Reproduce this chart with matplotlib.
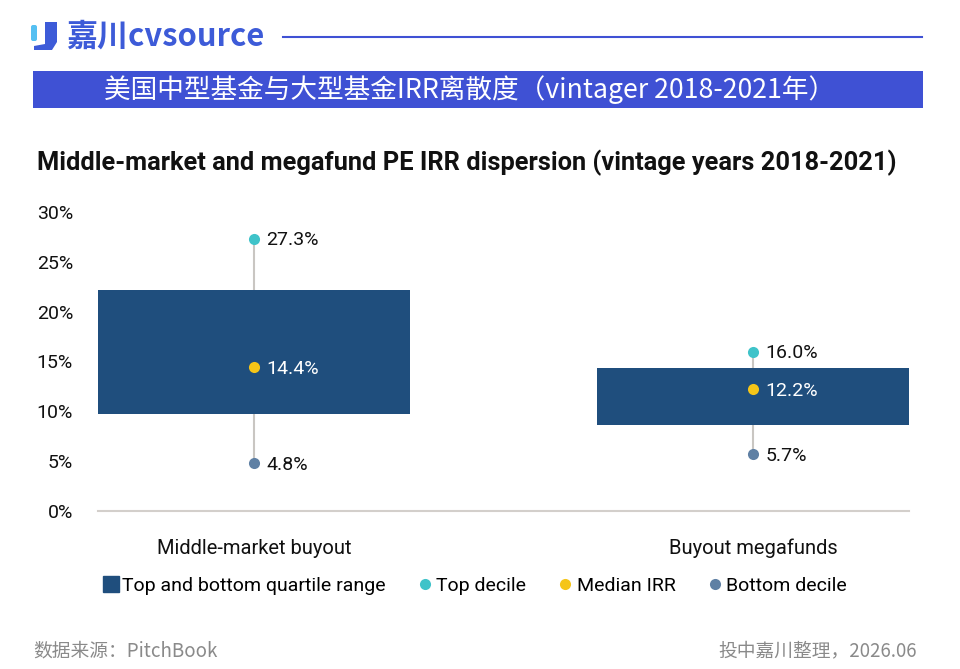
import matplotlib.pyplot as plt
import matplotlib.patches as patches
from matplotlib.lines import Line2D

# data (IRR, %)
categories = ["Middle-market buyout", "Buyout megafunds"]
q1 = [9.7, 8.6]          # bottom quartile
q3 = [22.2, 14.3]        # top quartile
top_decile = [27.3, 16.0]
median_irr = [14.4, 12.2]
bottom_decile = [4.8, 5.7]
yticks = [0, 5, 10, 15, 20, 25, 30]

BOX = '#1f4e7d'
TOP = '#3fc3c9'
MED = '#f5c518'
BOT = '#5f80a4'
BLUE = '#3f51d4'
sans = ['Roboto', 'DejaVu Sans']
cjk = ['Noto Sans CJK SC', 'DejaVu Sans']

fig = plt.figure(figsize=(9.6, 6.69), dpi=100, facecolor='white')

# header / footer layer in pixel coordinates
bg = fig.add_axes([0, 0, 1, 1])
bg.set_xlim(0, 960)
bg.set_ylim(669, 0)
bg.set_axis_off()

# logo icon
bg.add_patch(patches.FancyBboxPatch((31, 25), 6, 16, boxstyle='round,pad=0,rounding_size=2',
                                    color='#55c0f2', lw=0))
bg.add_patch(patches.Polygon([(45, 22), (57, 22), (57, 42), (52, 50), (34, 50), (34, 46), (45, 44)],
                             closed=True, color='#3d5bd8', lw=0))
bg.text(66, 37, '嘉川cvsource', family=cjk, fontsize=22.3, fontweight='bold',
        color='#3d5bd8', ha='left', va='center')
bg.plot([283, 922], [37, 37], color=BLUE, lw=1.5)

# banner
bg.add_patch(patches.Rectangle((33, 71), 890, 37, color=BLUE, lw=0))
bg.text(470, 90, '美国中型基金与大型基金IRR离散度（vintager 2018-2021年）', family=cjk,
        fontsize=19.2, color='white', ha='center', va='center')

# chart title
bg.text(37, 163, 'Middle-market and megafund PE IRR dispersion (vintage years 2018-2021)',
        family=sans, fontsize=18.25, fontweight='bold', color='#111111',
        ha='left', va='center')

# footer
bg.text(33, 651, '数据来源：PitchBook', family=cjk, fontsize=13.5, color='#8a8a8a',
        ha='left', va='center')
bg.text(917, 651, '投中嘉川整理，2026.06', family=cjk, fontsize=13.5, color='#8a8a8a',
        ha='right', va='center')

# main chart
ax = fig.add_axes([98 / 960, 158 / 669, 811 / 960, 299 / 669])
x = list(range(len(categories)))
width = 0.625
heights = [b - a for a, b in zip(q1, q3)]

ax.vlines(x, bottom_decile, top_decile, color='#c9c6c2', lw=1.5, zorder=1)
ax.bar(x, heights, bottom=q1, width=width, color=BOX, zorder=2)
ax.plot(x, top_decile, 'o', color=TOP, ms=8, zorder=3, mew=0)
ax.plot(x, median_irr, 'o', color=MED, ms=8, zorder=3, mew=0)
ax.plot(x, bottom_decile, 'o', color=BOT, ms=8, zorder=3, mew=0)

for i in x:
    for v, c in [(top_decile[i], '#111111'), (median_irr[i], 'white'), (bottom_decile[i], '#111111')]:
        ax.annotate(f'{v:.1f}%', (i, v), xytext=(9, -1), textcoords='offset points',
                    ha='left', va='center', fontsize=14, color=c, family=sans, zorder=4)

ax.set_xlim(-width / 2, len(categories) - 1 + width / 2)
ax.set_ylim(0, 30)
ax.set_yticks(yticks)
ax.set_yticklabels([f'{t}%' for t in yticks], family=sans, fontsize=14, color='#111111')
ax.set_xticks(x)
ax.set_xticklabels(categories, family=sans, fontsize=14.5, color='#111111')
ax.tick_params(axis='y', length=0, pad=18)
ax.tick_params(axis='x', length=0, pad=20)
for s in ['top', 'right', 'left']:
    ax.spines[s].set_visible(False)
ax.spines['bottom'].set_color('#d3cfcb')
ax.spines['bottom'].set_linewidth(1.5)
ax.set_facecolor('none')

handles = [
    Line2D([], [], marker='s', ls='', color=BOX, ms=11, label='Top and bottom quartile range'),
    Line2D([], [], marker='o', ls='', color=TOP, ms=8, mew=0, label='Top decile'),
    Line2D([], [], marker='o', ls='', color=MED, ms=8, mew=0, label='Median IRR'),
    Line2D([], [], marker='o', ls='', color=BOT, ms=8, mew=0, label='Bottom decile'),
]
fig.legend(handles=handles, loc='center', bbox_to_anchor=(476 / 960, 1 - 586 / 669), ncol=4,
           frameon=False, handlelength=0.6, handletextpad=0.3, columnspacing=1.7,
           prop={'family': sans, 'size': 14})

fig.savefig('out.png', dpi=100, facecolor='white')
